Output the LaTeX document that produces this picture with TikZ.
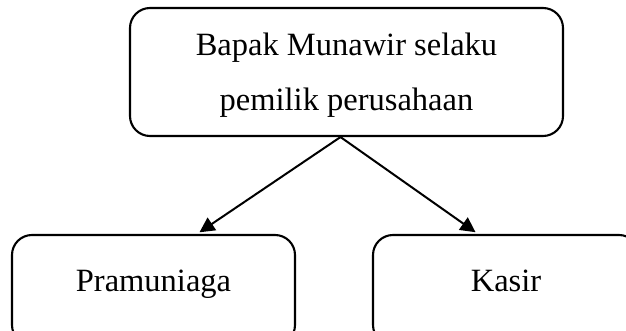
\documentclass[tikz,border=0pt]{standalone}
\usepackage{fontspec}
\setmainfont{Liberation Serif}
\usetikzlibrary{arrows.meta,positioning}

\begin{document}
\begin{tikzpicture}[x=1pt, y=-1pt,
	main/.style = {draw, rounded corners=20pt, line width=2.1pt, inner sep=0pt, font=\fontsize{32.5}{55}\selectfont},
	sub/.style = {main, text height=56pt, text depth=54pt, anchor=base},
	arr/.style = {-{Triangle[length=15pt,width=15pt]}, line width=2pt, shorten >=3pt}]
		\useasboundingbox (0,0) rectangle (626,331);
		\node[main, align=center, minimum width=433pt, minimum height=128pt] (1) at (346.5,72) {\rule{0pt}{29pt}Bapak Munawir selaku\\pemilik perusahaan};
		\node[sub, minimum width=283pt] (2) at (153.5,291) {Pramuniaga};
		\node[sub, minimum width=266pt] (3) at (506,291) {Kasir};
		\draw[arr] ([xshift=-6pt]1.south) -- ([xshift=43.5pt]2.north);
		\draw[arr] ([xshift=-6pt]1.south) -- ([xshift=-28pt]3.north);
\end{tikzpicture}
\end{document}
